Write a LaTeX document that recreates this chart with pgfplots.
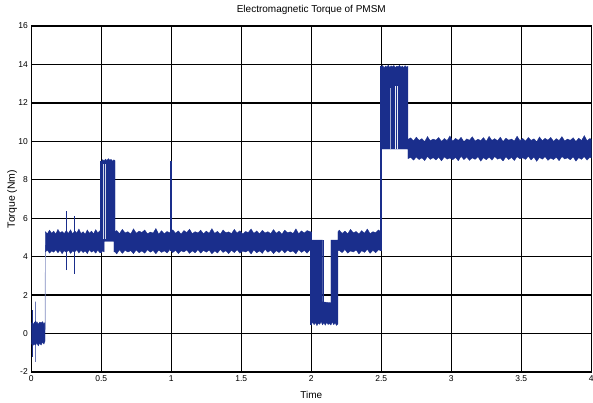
\documentclass[border=0pt]{standalone}
\usepackage{fontspec}
\setmainfont{Liberation Sans}
\usepackage{pgfplots}
\pgfplotsset{compat=1.18}
\definecolor{TorqueBlue}{HTML}{1A2E8C}

\begin{document}
\begin{tikzpicture}
\begin{axis}[
  set layers,
  scale only axis, width=560pt, height=346pt,
  xmin=0, xmax=4, ymin=-2, ymax=16,
  xtick={0,0.5,...,4}, ytick={-2,0,...,16},
  grid=major, grid style={black, line width=1.3pt},
  axis line style={black, line width=1.3pt},
  major tick length=0pt,
  /pgf/number format/assume math mode=true,
  tick label style={font=\fontsize{8.5}{9}\selectfont},
  title={Electromagnetic Torque of PMSM},
  title style={font=\fontsize{10}{11}\selectfont, at={(axis description cs:0.5,1)}, anchor=base, yshift=7pt},
  xlabel={Time},
  xlabel style={font=\fontsize{10}{11}\selectfont, at={(axis description cs:0.5,0)}, anchor=base, yshift=-27pt},
  ylabel={Torque (Nm)},
  ylabel style={font=\fontsize{10.5}{11}\selectfont, at={(axis description cs:-0.034,0.5)}, anchor=center},
]
% start-up band
\addplot[fill=TorqueBlue, draw=TorqueBlue, line width=0.3pt] coordinates {
  (0.000,0.50) (0.008,0.62) (0.015,0.45) (0.022,0.60) (0.030,0.50) (0.040,0.62)
  (0.050,0.48) (0.060,0.60) (0.070,0.55) (0.080,0.62) (0.090,0.50) (0.098,0.58)
  (0.098,-0.40) (0.090,-0.55) (0.080,-0.45) (0.070,-0.60) (0.060,-0.50) (0.050,-0.64)
  (0.040,-0.50) (0.030,-0.60) (0.020,-0.55) (0.010,-0.64) (0.000,-0.50)} -- cycle;
\addplot[TorqueBlue, line width=0.6pt] coordinates {(0.005,-1.2) (0.005,1.2)};
\addplot[TorqueBlue, line width=0.6pt] coordinates {(0.029,1.66) (0.031,-1.47)};
\addplot[TorqueBlue!55, line width=0.7pt] coordinates {(0.099,0.2) (0.101,4.6)};
% main torque band: upper envelope left to right, lower envelope back
\addplot[fill=TorqueBlue, draw=TorqueBlue, line width=0.3pt] coordinates {
  (0.100,5.30) (0.115,5.20) (0.130,5.38) (0.145,5.22) (0.160,5.33) (0.175,5.18)
  (0.190,5.42) (0.205,5.24) (0.220,5.31) (0.235,5.20) (0.250,5.36) (0.265,5.21)
  (0.280,5.40) (0.295,5.19) (0.310,5.34) (0.325,5.23) (0.340,5.44) (0.355,5.20)
  (0.370,5.30) (0.385,5.17) (0.400,5.39) (0.415,5.22) (0.430,5.33) (0.445,5.19)
  (0.460,5.41) (0.475,5.24) (0.490,5.35) (0.500,5.28)
  (0.500,8.95) (0.510,9.05) (0.520,8.98) (0.530,9.08) (0.540,9.00) (0.550,9.10)
  (0.560,9.02) (0.570,9.06) (0.580,8.97) (0.590,9.04) (0.598,9.00) (0.598,5.30)
  (0.61,5.36) (0.63,5.20) (0.65,5.42) (0.67,5.24) (0.69,5.30) (0.71,5.18)
  (0.73,5.45) (0.75,5.22) (0.77,5.33) (0.79,5.26) (0.81,5.39) (0.83,5.19)
  (0.85,5.28) (0.87,5.23) (0.89,5.47) (0.91,5.17) (0.93,5.35) (0.95,5.20)
  (0.97,5.31) (0.99,5.24) (1.01,5.40) (1.03,5.22) (1.05,5.34) (1.07,5.18)
  (1.09,5.36) (1.11,5.26) (1.13,5.43) (1.15,5.20) (1.17,5.30) (1.19,5.24)
  (1.21,5.38) (1.23,5.19) (1.25,5.33) (1.27,5.22) (1.29,5.46) (1.31,5.21)
  (1.33,5.32) (1.35,5.17) (1.37,5.39) (1.39,5.25) (1.41,5.29) (1.43,5.20)
  (1.45,5.42) (1.47,5.23) (1.49,5.35) (1.51,5.18) (1.53,5.31) (1.55,5.26)
  (1.57,5.44) (1.59,5.21) (1.61,5.34) (1.63,5.19) (1.65,5.37) (1.67,5.24)
  (1.69,5.30) (1.71,5.20) (1.73,5.41) (1.75,5.22) (1.77,5.33) (1.79,5.17)
  (1.81,5.38) (1.83,5.25) (1.85,5.29) (1.87,5.21) (1.89,5.45) (1.91,5.19)
  (1.93,5.34) (1.95,5.23) (1.97,5.36) (1.99,5.30)
  (2.000,5.30) (2.000,4.86) (2.080,4.86) (2.080,1.65) (2.140,1.60) (2.140,4.86)
  (2.190,4.86) (2.190,5.30)
  (2.20,5.38) (2.22,5.21) (2.24,5.33) (2.26,5.19) (2.28,5.42) (2.30,5.24)
  (2.32,5.31) (2.34,5.18) (2.36,5.36) (2.38,5.22) (2.40,5.44) (2.42,5.20)
  (2.44,5.30) (2.46,5.25) (2.48,5.39) (2.50,5.28)
  (2.50,13.85) (2.51,13.95) (2.52,13.82) (2.53,13.92) (2.54,13.86) (2.55,13.97)
  (2.56,13.84) (2.57,13.93) (2.58,13.87) (2.59,13.95) (2.60,13.83) (2.61,13.91)
  (2.62,13.88) (2.63,13.96) (2.64,13.85) (2.65,13.92) (2.66,13.84) (2.67,13.94)
  (2.68,13.86) (2.69,13.90) (2.69,10.10)
  (2.71,10.18) (2.73,10.02) (2.75,10.22) (2.77,10.05) (2.79,10.14) (2.81,9.99)
  (2.83,10.25) (2.85,10.03) (2.87,10.12) (2.89,10.06) (2.91,10.20) (2.93,10.00)
  (2.95,10.15) (2.97,10.04) (2.99,10.28) (3.01,10.01) (3.03,10.16) (3.05,10.05)
  (3.07,10.21) (3.09,9.98) (3.11,10.13) (3.13,10.06) (3.15,10.24) (3.17,10.02)
  (3.19,10.11) (3.21,10.04) (3.23,10.19) (3.25,10.00) (3.27,10.26) (3.29,10.05)
  (3.31,10.14) (3.33,10.03) (3.35,10.22) (3.37,9.99) (3.39,10.17) (3.41,10.06)
  (3.43,10.12) (3.45,10.02) (3.47,10.27) (3.49,10.04) (3.51,10.15) (3.53,10.01)
  (3.55,10.20) (3.57,10.05) (3.59,10.13) (3.61,9.98) (3.63,10.23) (3.65,10.03)
  (3.67,10.16) (3.69,10.06) (3.71,10.21) (3.73,10.00) (3.75,10.14) (3.77,10.04)
  (3.79,10.25) (3.81,10.02) (3.83,10.12) (3.85,10.05) (3.87,10.19) (3.89,9.99)
  (3.91,10.17) (3.93,10.04) (3.95,10.30) (3.97,10.03) (3.99,10.15) (4.00,10.10)
  (4.00,9.12) (3.99,9.18) (3.97,9.02) (3.95,9.20) (3.93,9.06) (3.91,9.15)
  (3.89,8.97) (3.87,9.19) (3.85,9.04) (3.83,9.14) (3.81,9.08) (3.79,9.21)
  (3.77,8.99) (3.75,9.17) (3.73,9.05) (3.71,9.13) (3.69,9.01) (3.67,9.20)
  (3.65,9.07) (3.63,9.16) (3.61,8.96) (3.59,9.18) (3.57,9.03) (3.55,9.22)
  (3.53,9.06) (3.51,9.14) (3.49,9.09) (3.47,9.20) (3.45,9.00) (3.43,9.16)
  (3.41,9.05) (3.39,9.19) (3.37,8.98) (3.35,9.13) (3.33,9.07) (3.31,9.21)
  (3.29,9.02) (3.27,9.17) (3.25,9.04) (3.23,9.15) (3.21,8.97) (3.19,9.20)
  (3.17,9.06) (3.15,9.14) (3.13,9.01) (3.11,9.18) (3.09,9.05) (3.07,9.22)
  (3.05,8.99) (3.03,9.16) (3.01,9.04) (2.99,9.13) (2.97,9.07) (2.95,9.19)
  (2.93,8.98) (2.91,9.17) (2.89,9.03) (2.87,9.15) (2.85,9.06) (2.83,9.21)
  (2.81,9.00) (2.79,9.14) (2.77,9.05) (2.75,9.18) (2.73,9.02) (2.71,9.16)
  (2.69,9.10) (2.69,9.60) (2.50,9.60) (2.50,4.30)
  (2.48,4.36) (2.46,4.20) (2.44,4.33) (2.42,4.17) (2.40,4.38) (2.38,4.22)
  (2.36,4.31) (2.34,4.14) (2.32,4.35) (2.30,4.24) (2.28,4.30) (2.26,4.18)
  (2.24,4.37) (2.22,4.21) (2.20,4.32) (2.19,4.30)
  (2.19,0.50) (2.18,0.42) (2.17,0.55) (2.16,0.46) (2.15,0.60) (2.14,0.44)
  (2.13,0.52) (2.12,0.47) (2.11,0.58) (2.10,0.43) (2.09,0.56) (2.08,0.45)
  (2.07,0.62) (2.06,0.48) (2.05,0.54) (2.04,0.41) (2.03,0.57) (2.02,0.46)
  (2.01,0.60) (2.00,0.45) (2.00,4.30)
  (1.99,4.35) (1.97,4.18) (1.95,4.32) (1.93,4.22) (1.91,4.37) (1.89,4.15)
  (1.87,4.30) (1.85,4.24) (1.83,4.34) (1.81,4.19) (1.79,4.36) (1.77,4.21)
  (1.75,4.31) (1.73,4.16) (1.71,4.33) (1.69,4.23) (1.67,4.38) (1.65,4.17)
  (1.63,4.30) (1.61,4.20) (1.59,4.35) (1.57,4.14) (1.55,4.32) (1.53,4.24)
  (1.51,4.29) (1.49,4.18) (1.47,4.36) (1.45,4.21) (1.43,4.33) (1.41,4.16)
  (1.39,4.31) (1.37,4.22) (1.35,4.37) (1.33,4.19) (1.31,4.30) (1.29,4.15)
  (1.27,4.34) (1.25,4.23) (1.23,4.32) (1.21,4.18) (1.19,4.36) (1.17,4.20)
  (1.15,4.30) (1.13,4.17) (1.11,4.35) (1.09,4.24) (1.07,4.31) (1.05,4.16)
  (1.03,4.33) (1.01,4.21) (0.99,4.37) (0.97,4.19) (0.95,4.30) (0.93,4.22)
  (0.91,4.34) (0.89,4.15) (0.87,4.32) (0.85,4.23) (0.83,4.36) (0.81,4.18)
  (0.79,4.30) (0.77,4.20) (0.75,4.35) (0.73,4.16) (0.71,4.31) (0.69,4.24)
  (0.67,4.33) (0.65,4.17) (0.63,4.36) (0.61,4.14)
  (0.598,4.25) (0.590,4.25) (0.590,4.80) (0.520,4.80) (0.520,4.25)
  (0.500,4.30) (0.490,4.20) (0.475,4.34) (0.460,4.18) (0.445,4.31) (0.430,4.23)
  (0.415,4.36) (0.400,4.16) (0.385,4.30) (0.370,4.21) (0.355,4.33) (0.340,4.19)
  (0.325,4.35) (0.310,4.24) (0.295,4.29) (0.280,4.17) (0.265,4.34) (0.250,4.22)
  (0.235,4.31) (0.220,4.15) (0.205,4.33) (0.190,4.20) (0.175,4.36) (0.160,4.23)
  (0.145,4.30) (0.130,4.18) (0.115,4.34) (0.100,4.25)} -- cycle;
% isolated spikes
\addplot[TorqueBlue, line width=0.8pt] coordinates {(0.25,3.3) (0.25,6.4)};
\addplot[TorqueBlue, line width=0.8pt] coordinates {(0.31,3.1) (0.31,6.1)};
\addplot[TorqueBlue, line width=2.2pt] coordinates {(1.00,4.3) (1.00,9.0)};
\addplot[TorqueBlue, line width=2.0pt] coordinates {(2.50,4.3) (2.50,13.9)};
\addplot[TorqueBlue, line width=2.0pt] coordinates {(2.00,0.45) (2.00,5.3)};
\addplot[TorqueBlue, line width=2.0pt] coordinates {(0.50,4.2) (0.50,9.0)};
\addplot[TorqueBlue, line width=0.5pt] coordinates {(2.085,1.6) (2.085,4.86)};
% light streaks inside the blocks
\addplot[white, opacity=0.8, line width=0.5pt] coordinates {(0.514,4.9) (0.514,8.8)};
\addplot[white, opacity=0.8, line width=0.5pt] coordinates {(0.529,4.9) (0.529,8.8)};
\addplot[white, opacity=0.6, line width=0.6pt] coordinates {(2.565,9.6) (2.565,12.8)};
\addplot[white, opacity=0.9, line width=0.5pt] coordinates {(2.600,9.6) (2.600,12.9)};
\addplot[white, opacity=0.9, line width=0.5pt] coordinates {(2.615,9.6) (2.615,12.9)};
\end{axis}
\pgfresetboundingbox
\path[use as bounding box] ([xshift=-31.3pt,yshift=-30.7pt]current axis.south west)
  rectangle ([xshift=1.7pt,yshift=26pt]current axis.north east);
\end{tikzpicture}
\end{document}
